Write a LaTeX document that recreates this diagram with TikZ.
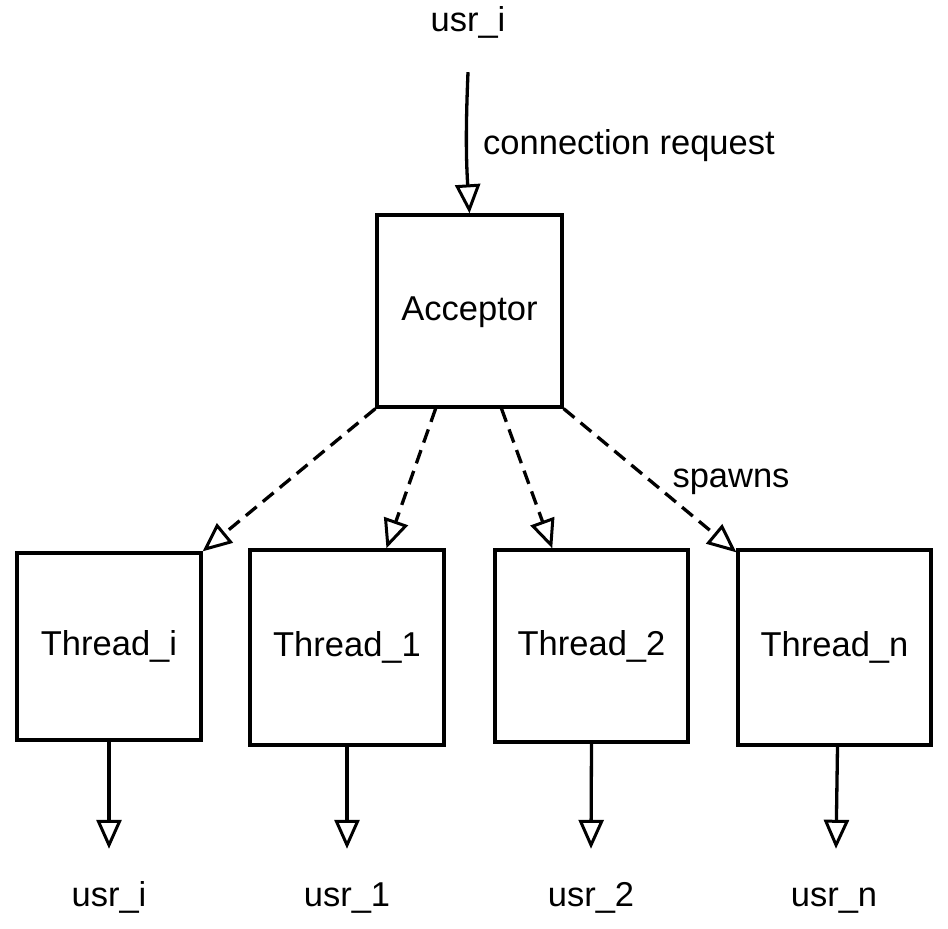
\documentclass[tikz,border=0pt]{standalone}
\usepackage{fontspec}
\setmainfont{Liberation Sans}
\usetikzlibrary{arrows.meta,calc}
\begin{document}
\begin{tikzpicture}[x=1pt,y=-1pt,
  lbl/.style={font=\fontsize{34.5}{38}\selectfont, inner sep=0pt, text height=25pt, text depth=7pt},
  boxnode/.style={draw, line width=3.3pt, minimum width=#1, inner sep=0pt, font=\fontsize{34.5}{38}\selectfont, text height=25pt, text depth=7pt},
  conn/.style={line width=3.3pt, -{Triangle[open, length=29pt, width=25pt, line width=3pt]}},
  dconn/.style={conn, dash pattern=on 14pt off 8pt}]
\useasboundingbox (0,0) rectangle (948,929);
% labels
\node[lbl] (utop) at (468,22) {usr\_i};
\node[lbl, anchor=west] (creq) at (483,145) {connection request};
\node[lbl] (spawns) at (731,478) {spawns};
% boxes
\node[boxnode=185pt, minimum height=192pt] (acc) at (469.5,311) {Acceptor};
\node[boxnode=184pt, minimum height=187pt] (ti) at (109,646.5) {Thread\_i};
\node[boxnode=194pt, minimum height=195pt] (t1) at (347,647.5) {Thread\_1};
\node[boxnode=193pt, minimum height=192pt] (t2) at (591.5,646) {Thread\_2};
\node[boxnode=193pt, minimum height=195pt] (tn) at (834.5,647.5) {Thread\_n};
% bottom labels
\node[lbl] (ui) at (109,897) {usr\_i};
\node[lbl] (u1) at (347,897) {usr\_1};
\node[lbl] (u2) at (591,897) {usr\_2};
\node[lbl] (un) at (834,897) {usr\_n};
% connectors
\draw[conn] ([yshift=-34pt]utop.south) to[bend right=3] (acc.north);
\draw[dconn] (acc.south west) -- (ti.north east);
\draw[dconn] ($(acc.south west)!0.32!(acc.south east)$) -- ($(t1.north west)!0.70!(t1.north east)$);
\draw[dconn] ($(acc.south west)!0.67!(acc.south east)$) -- ($(t2.north west)!0.30!(t2.north east)$);
\draw[dconn] (acc.south east) -- ([yshift=-4pt]tn.north west);
\draw[conn] (ti.south) -- ([yshift=32pt]ui.north);
\draw[conn] (t1.south) -- ([yshift=32pt]u1.north);
\draw[conn] (t2.south) -- ([yshift=32pt]u2.north);
\draw[conn] ([xshift=3pt]tn.south) -- ([xshift=2pt,yshift=32pt]un.north);
\end{tikzpicture}
\end{document}
